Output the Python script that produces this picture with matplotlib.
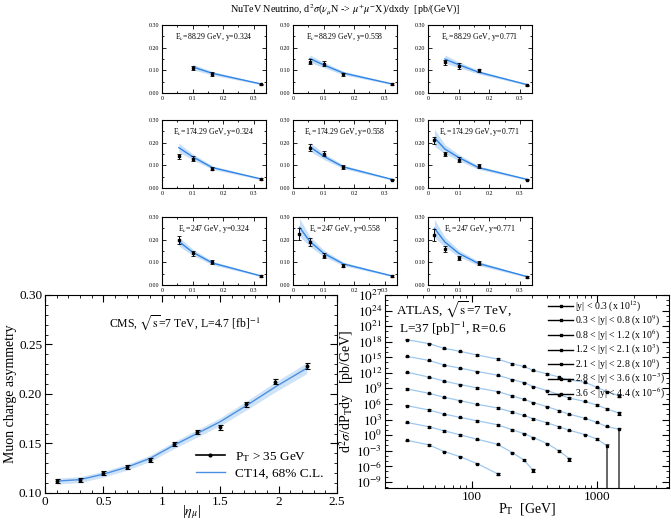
import numpy as np
import matplotlib
matplotlib.use("Agg")
import matplotlib.pyplot as plt
from matplotlib.ticker import MultipleLocator, FixedLocator, NullFormatter, FixedFormatter
from matplotlib.lines import Line2D

plt.rcParams['font.family'] = ['Liberation Serif', 'DejaVu Serif']
plt.rcParams['mathtext.fontset'] = 'stix'

# ---- NuTeV small panels ----
nutev_energy = ['88.29', '88.29', '88.29', '174.29', '174.29', '174.29', '247', '247', '247']
nutev_y = ['0.324', '0.558', '0.771'] * 3
nutev_x = [
    [0.1, 0.165, 0.324],
    [0.055, 0.1, 0.165, 0.324],
    [0.055, 0.1, 0.165, 0.324],
    [0.055, 0.1, 0.165, 0.324],
    [0.055, 0.1, 0.165, 0.324],
    [0.021, 0.055, 0.1, 0.165, 0.324],
    [0.055, 0.1, 0.165, 0.324],
    [0.021, 0.055, 0.1, 0.165, 0.324],
    [0.021, 0.055, 0.1, 0.165, 0.324],
]
nutev_data = [
    [0.110, 0.085, 0.038],
    [0.138, 0.130, 0.083, 0.040],
    [0.135, 0.120, 0.100, 0.034],
    [0.140, 0.130, 0.086, 0.040],
    [0.178, 0.152, 0.093, 0.037],
    [0.210, 0.150, 0.125, 0.097, 0.037],
    [0.200, 0.140, 0.100, 0.040],
    [0.225, 0.190, 0.130, 0.085, 0.040],
    [0.220, 0.160, 0.120, 0.098, 0.035],
]
nutev_err = [
    [0.010, 0.008, 0.003],
    [0.012, 0.010, 0.007, 0.003],
    [0.010, 0.012, 0.008, 0.003],
    [0.012, 0.010, 0.007, 0.003],
    [0.014, 0.012, 0.007, 0.003],
    [0.016, 0.010, 0.010, 0.008, 0.003],
    [0.018, 0.012, 0.009, 0.003],
    [0.026, 0.018, 0.013, 0.006, 0.003],
    [0.025, 0.014, 0.010, 0.009, 0.003],
]
nutev_theory = [
    [0.115, 0.087, 0.040],
    [0.152, 0.124, 0.088, 0.040],
    [0.150, 0.125, 0.092, 0.037],
    [0.178, 0.138, 0.090, 0.040],
    [0.182, 0.140, 0.093, 0.038],
    [0.222, 0.172, 0.135, 0.090, 0.038],
    [0.192, 0.145, 0.097, 0.040],
    [0.255, 0.192, 0.140, 0.093, 0.040],
    [0.250, 0.190, 0.140, 0.095, 0.037],
]
nutev_band = [
    [0.012, 0.008, 0.003],
    [0.016, 0.012, 0.008, 0.003],
    [0.018, 0.013, 0.008, 0.003],
    [0.020, 0.013, 0.008, 0.003],
    [0.020, 0.014, 0.008, 0.003],
    [0.038, 0.020, 0.014, 0.008, 0.003],
    [0.020, 0.014, 0.008, 0.003],
    [0.040, 0.022, 0.015, 0.008, 0.003],
    [0.040, 0.022, 0.015, 0.009, 0.003],
]

# ---- CMS muon charge asymmetry ----
cms_eta = [0.1, 0.3, 0.5, 0.7, 0.9, 1.1, 1.3, 1.5, 1.72, 1.97, 2.24]
cms_asym = [0.1125, 0.1135, 0.1205, 0.1265, 0.1335, 0.1495, 0.1615, 0.1665, 0.1895, 0.2125, 0.2285]
cms_err = [0.002, 0.002, 0.002, 0.002, 0.002, 0.002, 0.002, 0.0025, 0.0025, 0.0025, 0.003]
cms_ct14 = [0.112, 0.1135, 0.119, 0.126, 0.135, 0.148, 0.160, 0.172, 0.188, 0.207, 0.226]
cms_ct14_err = [0.003, 0.003, 0.003, 0.003, 0.0032, 0.0035, 0.0038, 0.004, 0.0045, 0.005, 0.0055]

# ---- ATLAS inclusive jets ----
atlas_pt = [30, 45, 60, 80, 110, 160, 210, 260, 310, 400, 500, 600, 800, 1000, 1200, 1500]
atlas_labels = [r'|y| < 0.3 (x 10$^{12}$)', r'0.3 < |y| < 0.8 (x 10$^{9}$)',
                r'0.8 < |y| < 1.2 (x 10$^{6}$)', r'1.2 < |y| < 2.1 (x 10$^{3}$)',
                r'2.1 < |y| < 2.8 (x 10$^{0}$)', r'2.8 < |y| < 3.6 (x 10$^{-3}$)',
                r'3.6 < |y| < 4.4 (x 10$^{-6}$)']
atlas_xs = [
    [2.5e18, 4.3e17, 5.2e16, 1.4e16, 2.7e15, 4.6e14, 5.6e13, 1.7e13, 2.9e12, 6.5e11, 1.5e11, 4.5e10, 1.6e10, 1.7e9, 2.5e8, 4.1e7],
    [1.5e15, 2.5e14, 3.1e13, 8.1e12, 1.8e12, 3.6e11, 5.1e10, 1.35e10, 2.3e9, 3.8e8, 6.3e7, 1.4e7, 3.2e6, 6.3e5, 1.2e5, 1.8e4],
    [1.35e12, 1.5e11, 2.5e10, 5.5e9, 1.25e9, 2.5e8, 3.5e7, 7.9e6, 1.8e6, 3.0e5, 5.0e4, 1.1e4, 1.9e3, 2.8e2, 46, 14],
    [7.9e8, 1.15e8, 1.9e7, 4.4e6, 8.5e5, 1.7e5, 2.8e4, 6.3e3, 1.4e3, 2.3e2, 40, 8.9, 1.3, 0.19, 9.5e-3],
    [4.7e5, 6.8e4, 1.1e4, 2.6e3, 5.8e2, 98, 10.5, 2.0, 0.34, 2.3e-2, 8.9e-4, 3e-5],
    [2.8e2, 40, 6.6, 1.1, 0.16, 1.7e-2, 4.2e-4, 1.6e-5, 1.6e-7],
    [0.10, 1.3e-2, 6.6e-4, 7.0e-5, 3.1e-6, 3.5e-8],
]
# relative errors of the last point in each series (1.0 = lower bar reaches the floor)
atlas_last_err = [0.5, 0.5, 1.0, 1.0, 0.6, 0.6, 0.4]

fig = plt.figure(figsize=(6.71, 5.22), dpi=100)

fig.text(0.514, 0.981, r'NuTeV Neutrino, d$^2\sigma$($\nu_\mu$N -> $\mu^{+}\mu^{-}$X)/dxdy  [pb/(GeV)]',
         ha='center', va='center', fontsize=7.3)

col_left = [0.2414, 0.4367, 0.6379]
row_bottom = [0.8218, 0.6398, 0.454]
for k in range(9):
    r, c = divmod(k, 3)
    ax = fig.add_axes([col_left[c], row_bottom[r], 0.155, 0.1303])
    xt = nutev_x[k]
    th = np.array(nutev_theory[k])
    bd = np.array(nutev_band[k])
    ax.fill_between(xt, th - bd, th + bd, color='#bcd8f5', alpha=0.8, lw=0)
    ax.plot(xt, th, color='#2f86e8', lw=1.0)
    ax.errorbar(xt, nutev_data[k], yerr=nutev_err[k], fmt='s', ms=1.6, color='black',
                ecolor='black', elinewidth=0.7, capsize=1.3, capthick=0.6)
    ax.set_xlim(0, 0.34)
    ax.set_ylim(0, 0.30)
    ax.xaxis.set_major_locator(FixedLocator([0, 0.1, 0.2, 0.3]))
    ax.xaxis.set_major_formatter(FixedFormatter(['0', '0.1', '0.2', '0.3']))
    ax.xaxis.set_minor_locator(MultipleLocator(0.05))
    ax.yaxis.set_major_locator(FixedLocator([0, 0.1, 0.2, 0.3]))
    ax.yaxis.set_major_formatter(FixedFormatter(['0.00', '0.10', '0.20', '0.30']))
    ax.yaxis.set_minor_locator(MultipleLocator(0.05))
    ax.tick_params(which='both', direction='in', top=True, right=True, labelsize=4.3, pad=2, width=0.6)
    ax.tick_params(which='major', length=3)
    ax.tick_params(which='minor', length=1.5)
    for s in ax.spines.values():
        s.set_linewidth(0.8)
    ax.text(0.5, 0.82, r'E$_\nu$=' + nutev_energy[k] + ' GeV, y=' + nutev_y[k],
            transform=ax.transAxes, ha='center', va='center', fontsize=5.6)

# ---- CMS panel ----
ax = fig.add_axes([0.0671, 0.0556, 0.4352, 0.3793])
ct = np.array(cms_ct14)
ce = np.array(cms_ct14_err)
ax.fill_between(cms_eta, ct - ce, ct + ce, color='#cfe3f8', lw=0)
ax.plot(cms_eta, ct, color='#4a90e2', lw=1.0)
ax.errorbar(cms_eta, cms_asym, yerr=cms_err, fmt='o', ms=1.8, color='black', elinewidth=0.9,
            capsize=1.8, capthick=0.8)
ax.set_xlim(0, 2.5)
ax.set_ylim(0.10, 0.30)
ax.xaxis.set_major_locator(FixedLocator([0, 0.5, 1, 1.5, 2, 2.5]))
ax.xaxis.set_major_formatter(FixedFormatter(['0', '0.5', '1', '1.5', '2', '2.5']))
ax.xaxis.set_minor_locator(MultipleLocator(0.1))
ax.yaxis.set_major_locator(MultipleLocator(0.05))
ax.yaxis.set_major_formatter(plt.FormatStrFormatter('%.2f'))
ax.yaxis.set_minor_locator(MultipleLocator(0.01))
ax.tick_params(which='both', direction='in', top=True, right=True, labelsize=9.5, pad=2)
ax.tick_params(which='major', length=5)
ax.tick_params(which='minor', length=2.5)
ax.set_xlabel(r'|$\eta_\mu$|', fontsize=10, labelpad=-3)
ax.set_ylabel('Muon charge asymmetry', fontsize=10, labelpad=1)
ax.text(0.48, 0.86, r'CMS, $\sqrt{\rm s}$=7 TeV, L=4.7 [fb]$^{-1}$', transform=ax.transAxes,
        ha='center', va='center', fontsize=8.5)
cms_handles = [Line2D([0], [0], color='black', lw=1.2, marker='o', ms=2),
               Line2D([0], [0], color='#4a90e2', lw=1.0)]
ax.legend(cms_handles, [r'P$_\mathrm{T}$ > 35 GeV', 'CT14, 68% C.L.'], loc='lower right',
          frameon=False, fontsize=9.5, handlelength=2.2, labelspacing=0.3, borderaxespad=0.6)

# ---- ATLAS panel ----
ax = fig.add_axes([0.5738, 0.0651, 0.4232, 0.3697])
handles = []
for i, vals in enumerate(atlas_xs):
    pts = np.array(atlas_pt[:len(vals)], dtype=float)
    v = np.array(vals)
    rel = np.full(len(v), 0.3)
    rel[-1] = atlas_last_err[i]
    lo = v * np.minimum(rel, 0.95)
    hi = v * rel
    if atlas_last_err[i] >= 1.0:
        lo[-1] = v[-1] - 1e-14
    ax.plot(pts, v, color='#9ec8ef', lw=0.9)
    ax.errorbar(pts[:-1], v[:-1], yerr=[lo[:-1], hi[:-1]], fmt='s', ms=1.5, color='black',
                ecolor='black', elinewidth=0.6, capsize=1.2, capthick=0.5)
    ecol = '0.35' if atlas_last_err[i] >= 1.0 else 'black'
    ax.errorbar(pts[-1:], v[-1:], yerr=[lo[-1:], hi[-1:]], fmt='s', ms=1.5, color='black',
                ecolor=ecol, elinewidth=1.3 if atlas_last_err[i] >= 1.0 else 0.8,
                capsize=1.5, capthick=0.8)
    handles.append(Line2D([0], [0], color='black', lw=1.0, marker='s', ms=1.8))
ax.set_xscale('log')
ax.set_yscale('log')
ax.set_xlim(20, 3800)
ax.set_ylim(10**-10.2, 1e27)
ax.xaxis.set_major_locator(FixedLocator([100, 1000]))
ax.xaxis.set_major_formatter(FixedFormatter(['100', '1000']))
ax.xaxis.set_minor_locator(FixedLocator([20, 30, 40, 50, 60, 70, 80, 90, 200, 300, 400, 500,
                                          600, 700, 800, 900, 2000, 3000]))
ax.xaxis.set_minor_formatter(NullFormatter())
yt = [10.0 ** e for e in range(-9, 28, 3)]
ax.yaxis.set_major_locator(FixedLocator(yt))
ax.yaxis.set_major_formatter(FixedFormatter([r'$10^{%d}$' % e for e in range(-9, 28, 3)]))
ax.yaxis.set_minor_locator(FixedLocator([10.0 ** e for e in range(-10, 28)]))
ax.yaxis.set_minor_formatter(NullFormatter())
ax.tick_params(which='both', direction='in', top=True, right=True, labelsize=9.5, pad=2)
ax.tick_params(which='major', length=5)
ax.tick_params(which='minor', length=2.5)
ax.set_xlabel(r'P$_\mathrm{T}$  [GeV]', fontsize=10, labelpad=-1)
ax.set_ylabel(r'd$^2\sigma$/dP$_\mathrm{T}$dy   [pb/GeV]', fontsize=10, labelpad=0)
ax.text(0.04, 0.975, r'ATLAS, $\sqrt{\rm s}$=7 TeV,' + '\n' + r' L=37 [pb]$^{-1}$, R=0.6',
        transform=ax.transAxes, ha='left', va='top', fontsize=9.5, linespacing=1.0)
ax.legend(handles, atlas_labels, loc='upper right', frameon=False, fontsize=7,
          handlelength=2.6, handletextpad=0.2, labelspacing=0.0, borderaxespad=0.15,
          borderpad=0.2)

fig.savefig('out.png', dpi=100)
